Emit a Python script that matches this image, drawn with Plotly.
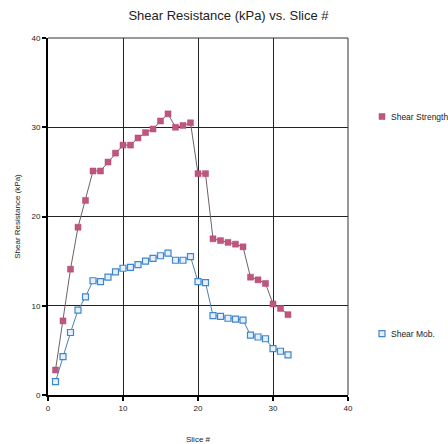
import plotly.graph_objects as go

slices = list(range(1, 33))
shear_strength = [2.8, 8.3, 14.1, 18.8, 21.8, 25.1, 25.1, 26.1, 27.1, 28.0, 28.0, 28.8,
                  29.4, 29.8, 30.7, 31.5, 30.0, 30.2, 30.5, 24.8, 24.8, 17.5, 17.3, 17.1,
                  16.9, 16.6, 13.2, 12.9, 12.5, 10.2, 9.7, 9.0]
shear_mob = [1.5, 4.3, 7.0, 9.5, 11.0, 12.8, 12.7, 13.2, 13.8, 14.2, 14.3, 14.6,
             15.0, 15.3, 15.6, 15.9, 15.1, 15.1, 15.5, 12.7, 12.6, 8.9, 8.8, 8.6,
             8.5, 8.4, 6.7, 6.5, 6.3, 5.2, 4.9, 4.5]
x_ticks = [0, 10, 20, 30, 40]
y_ticks = [0, 10, 20, 30, 40]
series_names = ["Shear Strength", "Shear Mob."]

FONT = "Liberation Sans, Arial, sans-serif"
STRENGTH_FILL, STRENGTH_EDGE = "#c0557f", "#b04a72"
MOB_FILL, MOB_EDGE = "#e6f0fa", "#3f86cf"

fig = go.Figure()
fig.add_trace(go.Scatter(
    x=slices, y=shear_strength, mode="lines+markers", name=series_names[0],
    line=dict(color="#6e6266", width=1),
    marker=dict(symbol="square", size=6, color=STRENGTH_FILL, line=dict(color=STRENGTH_EDGE, width=0.5))))
fig.add_trace(go.Scatter(
    x=slices, y=shear_mob, mode="lines+markers", name=series_names[1],
    line=dict(color="#4f7fae", width=1),
    marker=dict(symbol="square", size=6, color=MOB_FILL, line=dict(color=MOB_EDGE, width=1.2))))

axis_common = dict(
    showgrid=True, gridcolor="#222222", gridwidth=1,
    showline=True, linecolor="black", linewidth=2,
    ticks="outside", ticklen=4, tickcolor="black", tickwidth=1.5,
    tickfont=dict(size=8, color="#222222", family=FONT),
    zeroline=False, fixedrange=True,
)

fig.update_layout(
    width=448, height=444,
    margin=dict(l=48, r=100, t=38, b=49, autoexpand=False),
    paper_bgcolor="white", plot_bgcolor="white",
    font=dict(family=FONT, color="#222222"),
    showlegend=False,
    title=dict(text="Shear Resistance (kPa) vs. Slice #", x=0.51, xanchor="center",
               y=0.966, yanchor="middle", font=dict(size=13, family=FONT, color="#222222")),
    xaxis=dict(range=[0, 40], tickvals=x_ticks, ticktext=[str(v) for v in x_ticks],
               title=dict(text="Slice #", font=dict(size=8, family=FONT), standoff=26),
               **axis_common),
    yaxis=dict(range=[0, 40], tickvals=y_ticks, ticktext=[str(v) for v in y_ticks],
               title=dict(text="Shear Resistance (kPa)", font=dict(size=8, family=FONT), standoff=10),
               **axis_common),
)
# frame on top and right
fig.add_shape(type="line", xref="paper", yref="paper", x0=0, x1=1, y0=1, y1=1,
              line=dict(color="#333333", width=1))
fig.add_shape(type="line", xref="paper", yref="paper", x0=1, x1=1, y0=0, y1=1,
              line=dict(color="#333333", width=1))

# legend swatches + labels placed like the reference (two separate entries at the right)
legend_items = [
    (series_names[0], 0.78, STRENGTH_FILL, STRENGTH_EDGE, 0.5),
    (series_names[1], 0.172, MOB_FILL, MOB_EDGE, 1.2),
]
pw, ph = 300.0, 357.0
for name, ypos, fill, edge, lw in legend_items:
    cx = (382 - 48) / pw
    hx, hy = 3 / pw, 3 / ph
    fig.add_shape(type="rect", xref="paper", yref="paper",
                  x0=cx - hx, x1=cx + hx, y0=ypos - hy, y1=ypos + hy,
                  fillcolor=fill, line=dict(color=edge, width=lw))
    fig.add_annotation(xref="paper", yref="paper", x=(389 - 48) / pw, y=ypos,
                       xanchor="left", yanchor="middle", text=name, showarrow=False,
                       font=dict(size=8.5, family=FONT, color="#222222"))

fig.write_html("out.html")
